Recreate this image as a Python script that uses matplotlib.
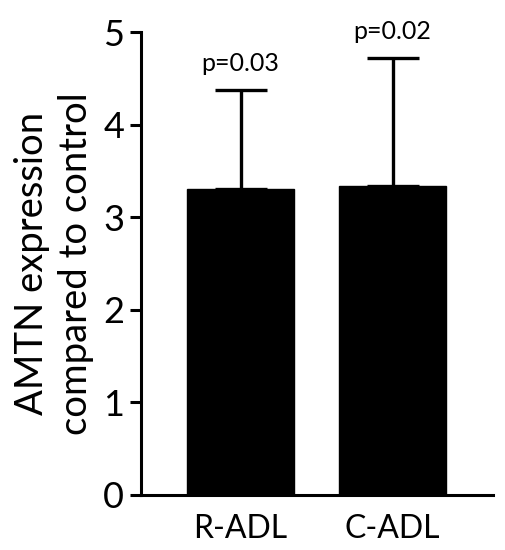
import numpy as np
import matplotlib
matplotlib.use('Agg')
import matplotlib.pyplot as plt

plt.rcParams['font.family'] = ['Lato', 'DejaVu Sans']

groups = ['R-ADL', 'C-ADL']
means = [3.31, 3.34]
sd_upper = [1.06, 1.38]
p_labels = ['p=0.03', 'p=0.02']

fig = plt.figure(figsize=(5.06, 5.5), dpi=100)
ax = fig.add_axes([0.2787, 0.1, 0.974 - 0.2787, 0.8418])

x = np.arange(len(groups))
ax.bar(x, means, width=0.7, color='black', edgecolor='black', zorder=2)
ax.errorbar(x, means, yerr=[np.zeros(len(means)), sd_upper], fmt='none',
            ecolor='black', elinewidth=2.4, capsize=19, capthick=2.4, zorder=1)

for xi, m, s, lab in zip(x, means, sd_upper, p_labels):
    ax.annotate(lab, (xi, m + s), xytext=(0, 11), textcoords='offset points',
                ha='center', va='bottom', fontsize=18)

ax.set_xlim(-0.655, 1.66)
ax.set_ylim(0, 5)
ax.set_yticks([0, 1, 2, 3, 4, 5])
ax.set_xticks(x)
ax.set_xticklabels(groups)
ax.tick_params(axis='y', labelsize=26, width=2.2, length=8, pad=4)
ax.tick_params(axis='x', labelsize=23, length=0, pad=14)
ax.set_ylabel('AMTN expression\ncompared to control', fontsize=27.5, labelpad=7,
              linespacing=1.25)

ax.spines['top'].set_visible(False)
ax.spines['right'].set_visible(False)
ax.spines['left'].set_linewidth(2.2)
ax.spines['bottom'].set_linewidth(2.2)

fig.savefig('out.png', dpi=100)
